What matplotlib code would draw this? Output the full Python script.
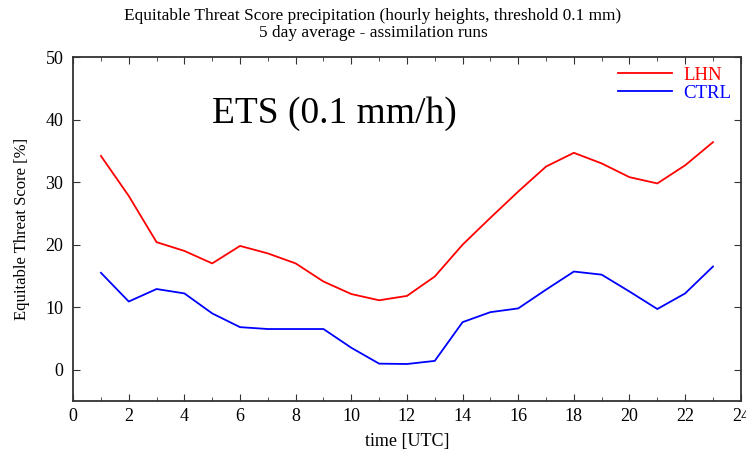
import numpy as np
import matplotlib.pyplot as plt

plt.rcParams["font.family"] = ["Liberation Serif", "DejaVu Serif"]

hours = list(range(1, 24))
lhn = [34.2, 27.8, 20.4, 19.0, 17.0, 19.8, 18.6, 17.0, 14.1, 12.1, 11.1, 11.8,
       14.9, 20.0, 24.3, 28.5, 32.5, 34.7, 33.0, 30.8, 29.8, 32.7, 36.4]
ctrl = [15.5, 10.9, 12.9, 12.2, 9.0, 6.8, 6.5, 6.5, 6.5, 3.5, 0.96, 0.9,
        1.4, 7.6, 9.2, 9.8, 12.8, 15.7, 15.2, 12.5, 9.7, 12.2, 16.5]

fig = plt.figure(figsize=(7.46, 4.54), dpi=100)
ax = fig.add_axes([0.098, 0.117, 0.895, 0.757])

ax.plot(hours, lhn, color="#ff0000", lw=1.3, label="LHN")
ax.plot(hours, ctrl, color="#0000ff", lw=1.3, label="CTRL")

ax.set_xlim(0, 24)
ax.set_ylim(-5, 50)
ax.set_xticks(range(0, 25, 2))
ax.set_xticks(range(1, 24, 2), minor=True)
ax.set_yticks(range(0, 51, 10))
ax.tick_params(axis="both", which="both", direction="in", top=True, right=True,
               labelsize=13, color="#333333")
ax.tick_params(which="major", length=5)
ax.tick_params(which="minor", length=3)
ax.tick_params(axis="y", pad=7)
ax.tick_params(axis="x", pad=5)
for s in ax.spines.values():
    s.set_color("#333333")
    s.set_linewidth(1.3)

# labels
ax.set_xlabel("time [UTC]", fontsize=13, labelpad=6)
ax.set_ylabel("Equitable Threat Score [%]", fontsize=12, labelpad=11)
fig.suptitle("Equitable Threat Score precipitation (hourly heights, threshold 0.1 mm)\n"
             "5 day average - assimilation runs", fontsize=12.4, y=0.982, linespacing=1.1)

ax.text(5.0, 41.0, "ETS (0.1 mm/h)", fontsize=27, va="center", ha="left")

leg = ax.legend(loc="upper right", frameon=False, fontsize=13.5, labelcolor="linecolor",
                handlelength=2.9, borderaxespad=0.3, labelspacing=0.05, handletextpad=0.6,
                borderpad=0.2)

fig.savefig("out.png", dpi=100)
plt.close()
